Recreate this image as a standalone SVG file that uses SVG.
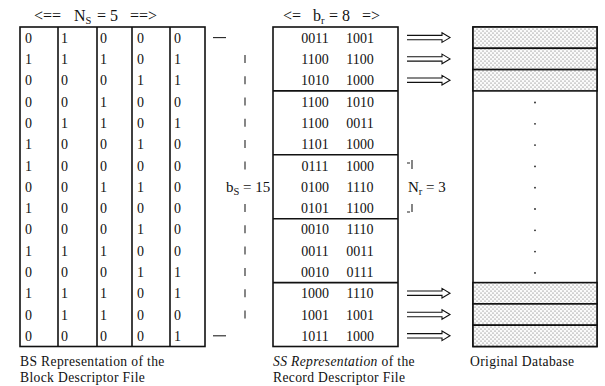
<svg xmlns="http://www.w3.org/2000/svg" width="605" height="386" viewBox="0 0 605 386">
  <style>
    text { font-family: "Liberation Serif", "Times New Roman", serif; fill: #111; }
    .hdr { font-size: 16px; }
    .lbl { font-size: 15px; }
    .sub { font-size: 10.5px; }
    .cell { font-size: 14px; }
    .bits { font-size: 14px; text-anchor: middle; }
    .cap { font-size: 13.6px; letter-spacing: 0.35px; }
    .frame { fill: none; stroke: #111; stroke-width: 1.6; }
    .rule { stroke: #111; stroke-width: 1.6; }
    .thin { stroke: #222; stroke-width: 1.1; fill: none; }
    .arrow { fill: none; stroke: #111; stroke-width: 1.1; stroke-linejoin: miter; }
    .band { fill: url(#dots); stroke: #111; stroke-width: 1.6; }
  </style>
  <defs>
    <pattern id="dots" width="4" height="4" patternUnits="userSpaceOnUse">
      <rect width="4" height="4" fill="#fbfbfb"/>
      <circle cx="1" cy="1" r="0.55" fill="#555"/>
      <circle cx="3" cy="3" r="0.55" fill="#555"/>
    </pattern>
    <path id="dbl-arrow" class="arrow" d="M0,-2.2 H35 V-4.8 L43,0 L35,4.8 V2.2 H0"/>
  </defs>
  <rect width="605" height="386" fill="#fff"/>

  <!-- Block descriptor file, bit-sliced -->
  <g id="bs-table">
    <text class="hdr" y="21"><tspan x="34">&lt;==</tspan><tspan x="74">N</tspan><tspan class="sub" dy="3">S</tspan><tspan dy="-3" x="97">= 5</tspan><tspan x="130">==&gt;</tspan></text>
    <rect class="frame" x="20" y="27" width="185" height="319.5"/>
    <line class="rule" x1="58" y1="27" x2="58" y2="346.5"/>
    <line class="rule" x1="97" y1="27" x2="97" y2="346.5"/>
    <line class="rule" x1="132" y1="27" x2="132" y2="346.5"/>
    <line class="rule" x1="170" y1="27" x2="170" y2="346.5"/>
    <g class="cell">
      <text x="25 61 100 137 174" y="42.7">01000</text>
      <text x="25 61 100 137 174" y="64.0">11101</text>
      <text x="25 61 100 137 174" y="85.3">00011</text>
      <text x="25 61 100 137 174" y="106.6">00100</text>
      <text x="25 61 100 137 174" y="127.9">01101</text>
      <text x="25 61 100 137 174" y="149.2">10010</text>
      <text x="25 61 100 137 174" y="170.5">10000</text>
      <text x="25 61 100 137 174" y="191.8">00110</text>
      <text x="25 61 100 137 174" y="213.1">10000</text>
      <text x="25 61 100 137 174" y="234.4">00010</text>
      <text x="25 61 100 137 174" y="255.7">11100</text>
      <text x="25 61 100 137 174" y="277.0">00011</text>
      <text x="25 61 100 137 174" y="298.3">11101</text>
      <text x="25 61 100 137 174" y="319.6">01100</text>
      <text x="25 61 100 137 174" y="340.9">00001</text>
    </g>
    <text class="cap" x="20" y="366">BS Representation of the</text>
    <text class="cap" x="20" y="381.5">Block Descriptor File</text>
  </g>

  <!-- height marker b_s = 15 -->
  <g id="bs-height">
    <line class="thin" x1="213" y1="37.6" x2="226" y2="37.6"/>
    <line class="thin" x1="213" y1="335.8" x2="226" y2="335.8"/>
    <g class="thin">
      <line x1="245" y1="55" x2="245" y2="63"/>
      <line x1="245" y1="76.2" x2="245" y2="84.2"/>
      <line x1="245" y1="97.5" x2="245" y2="105.5"/>
      <line x1="245" y1="118.8" x2="245" y2="126.8"/>
      <line x1="245" y1="140.1" x2="245" y2="148.1"/>
      <line x1="245" y1="161.4" x2="245" y2="169.4"/>
      <line x1="245" y1="204" x2="245" y2="212"/>
      <line x1="245" y1="225.3" x2="245" y2="233.3"/>
      <line x1="245" y1="246.6" x2="245" y2="254.6"/>
      <line x1="245" y1="267.9" x2="245" y2="275.9"/>
      <line x1="245" y1="289.2" x2="245" y2="297.2"/>
      <line x1="245" y1="310.5" x2="245" y2="318.5"/>
    </g>
    <text class="lbl" x="226" y="191.8">b<tspan class="sub" dy="3">S</tspan><tspan dy="-3"> = 15</tspan></text>
  </g>

  <!-- Record descriptor file, bit-sliced in groups of N_r -->
  <g id="ss-table">
    <text class="hdr" y="21"><tspan x="283">&lt;=</tspan><tspan x="313">b</tspan><tspan class="sub" dy="3">r</tspan><tspan dy="-3" x="329">= 8</tspan><tspan x="362">=&gt;</tspan></text>
    <rect class="frame" x="273" y="27" width="125" height="319.5"/>
    <line class="rule" x1="273" y1="90.9" x2="398" y2="90.9"/>
    <line class="rule" x1="273" y1="154.8" x2="398" y2="154.8"/>
    <line class="rule" x1="273" y1="218.7" x2="398" y2="218.7"/>
    <line class="rule" x1="273" y1="282.6" x2="398" y2="282.6"/>
    <g class="bits">
      <text y="42.7"><tspan x="315">0011</tspan><tspan x="360">1001</tspan></text>
      <text y="64.0"><tspan x="315">1100</tspan><tspan x="360">1100</tspan></text>
      <text y="85.3"><tspan x="315">1010</tspan><tspan x="360">1000</tspan></text>
      <text y="106.6"><tspan x="315">1100</tspan><tspan x="360">1010</tspan></text>
      <text y="127.9"><tspan x="315">1100</tspan><tspan x="360">0011</tspan></text>
      <text y="149.2"><tspan x="315">1101</tspan><tspan x="360">1000</tspan></text>
      <text y="170.5"><tspan x="315">0111</tspan><tspan x="360">1000</tspan></text>
      <text y="191.8"><tspan x="315">0100</tspan><tspan x="360">1110</tspan></text>
      <text y="213.1"><tspan x="315">0101</tspan><tspan x="360">1100</tspan></text>
      <text y="234.4"><tspan x="315">0010</tspan><tspan x="360">1110</tspan></text>
      <text y="255.7"><tspan x="315">0011</tspan><tspan x="360">0011</tspan></text>
      <text y="277.0"><tspan x="315">0010</tspan><tspan x="360">0111</tspan></text>
      <text y="298.3"><tspan x="315">1000</tspan><tspan x="360">1110</tspan></text>
      <text y="319.6"><tspan x="315">1001</tspan><tspan x="360">1001</tspan></text>
      <text y="340.9"><tspan x="315">1011</tspan><tspan x="360">1000</tspan></text>
    </g>
    <text class="cap" x="273" y="366"><tspan font-style="italic">SS Representation</tspan> of the</text>
    <text class="cap" x="273" y="381.5">Record Descriptor File</text>
  </g>

  <!-- group size marker N_r = 3 -->
  <g id="nr-size">
    <path class="thin" d="M407,163 H410 M412,160 V169"/>
    <path class="thin" d="M412,204 V212 M407,212 H410"/>
    <text class="lbl" x="408" y="191.8">N<tspan class="sub" dy="3">r</tspan><tspan dy="-3"> = 3</tspan></text>
  </g>

  <!-- Original database -->
  <g id="database">
    <rect class="frame" x="473" y="27" width="124" height="319.5"/>
    <rect class="band" x="473" y="27" width="124" height="21.3"/>
    <rect class="band" x="473" y="48.3" width="124" height="21.3"/>
    <rect class="band" x="473" y="69.6" width="124" height="21.3"/>
    <rect class="band" x="473" y="282.6" width="124" height="21.3"/>
    <rect class="band" x="473" y="303.9" width="124" height="21.3"/>
    <rect class="band" x="473" y="325.2" width="124" height="21.3"/>
    <g fill="#222">
      <circle cx="535" cy="102.5" r="0.9"/>
      <circle cx="535" cy="123.8" r="0.9"/>
      <circle cx="535" cy="145.1" r="0.9"/>
      <circle cx="535" cy="166.4" r="0.9"/>
      <circle cx="535" cy="187.7" r="0.9"/>
      <circle cx="535" cy="209" r="0.9"/>
      <circle cx="535" cy="230.3" r="0.9"/>
      <circle cx="535" cy="251.6" r="0.9"/>
      <circle cx="535" cy="272.9" r="0.9"/>
    </g>
    <text class="cap" x="470" y="366">Original Database</text>
  </g>

  <!-- record pointers -->
  <g id="connectors">
    <use href="#dbl-arrow" x="407" y="37.6"/>
    <use href="#dbl-arrow" x="407" y="58.9"/>
    <use href="#dbl-arrow" x="407" y="80.2"/>
    <use href="#dbl-arrow" x="407" y="293.2"/>
    <use href="#dbl-arrow" x="407" y="314.5"/>
    <use href="#dbl-arrow" x="407" y="335.8"/>
  </g>
</svg>
